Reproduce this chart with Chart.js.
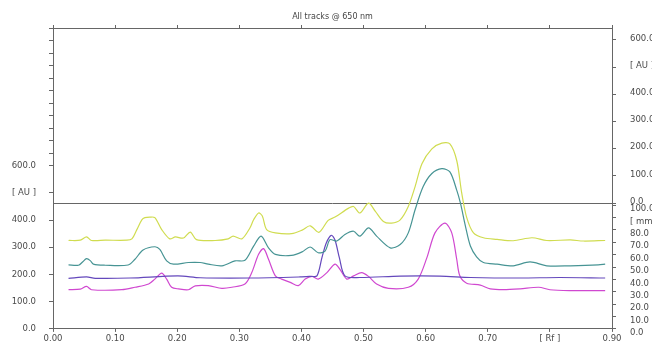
<!DOCTYPE html>
<html>
<head>
<meta charset="utf-8">
<script src="https://cdn.jsdelivr.net/npm/chart.js@4.4.1/dist/chart.umd.min.js"></script>
<style>
  html, body { margin: 0; padding: 0; background: #fff; overflow: hidden; }
</style>
</head>
<body>
<canvas id="chart" width="700" height="348"></canvas>
<script>
// Rf positions and signal (AU, left scale) for each track
const yellowRf = [0.025,0.044,0.054,0.062,0.084,0.119,0.127,0.135,0.143,0.148,0.156,0.164,0.175,0.188,0.197,0.210,0.221,0.231,0.261,0.282,0.290,0.304,0.317,0.323,0.331,0.337,0.344,0.358,0.384,0.401,0.414,0.428,0.443,0.454,0.476,0.484,0.494,0.508,0.519,0.532,0.545,0.559,0.572,0.583,0.594,0.610,0.626,0.639,0.650,0.658,0.666,0.677,0.693,0.715,0.741,0.771,0.795,0.833,0.854,0.889];
const yellowAu = [325,326,338,325,326,326,331,365,401,409,411,409,365,331,338,334,356,328,325,331,341,331,371,401,426,415,365,353,350,363,379,355,399,411,444,450,426,462,432,395,389,401,450,523,607,662,683,680,619,500,410,353,335,329,324,335,325,327,323,325];

const tealRf = [0.025,0.041,0.048,0.054,0.060,0.065,0.084,0.121,0.132,0.145,0.164,0.172,0.183,0.194,0.218,0.237,0.250,0.272,0.293,0.309,0.323,0.335,0.347,0.358,0.384,0.401,0.414,0.427,0.438,0.446,0.457,0.470,0.484,0.494,0.508,0.521,0.543,0.559,0.572,0.583,0.596,0.610,0.626,0.639,0.650,0.656,0.664,0.672,0.682,0.693,0.715,0.741,0.768,0.795,0.833,0.878,0.889];
const tealAu = [235,234,247,258,251,238,234,235,256,290,302,292,250,238,244,244,238,232,250,252,304,341,298,274,270,283,301,280,286,328,323,347,359,341,371,341,298,310,353,438,523,571,589,577,510,462,378,305,265,244,238,232,246,232,232,235,238];

const purpleRf = [0.025,0.054,0.068,0.124,0.201,0.237,0.317,0.398,0.414,0.425,0.433,0.440,0.448,0.454,0.461,0.470,0.494,0.559,0.623,0.672,0.752,0.816,0.889];
const purpleAu = [186,191,186,187,195,188,187,191,193,195,262,316,344,327,262,195,189,194,194,189,187,189,187];

const magentaRf = [0.025,0.044,0.054,0.062,0.111,0.132,0.154,0.164,0.175,0.183,0.191,0.202,0.218,0.229,0.250,0.272,0.288,0.309,0.320,0.331,0.339,0.347,0.358,0.368,0.382,0.395,0.406,0.417,0.427,0.441,0.454,0.462,0.473,0.484,0.497,0.508,0.521,0.540,0.572,0.588,0.602,0.615,0.631,0.642,0.650,0.655,0.666,0.688,0.704,0.725,0.752,0.782,0.800,0.833,0.889];
const magentaAu = [144,146,156,144,144,153,165,183,205,183,153,147,144,158,159,149,153,165,207,274,295,256,195,183,171,159,183,193,183,207,238,219,183,195,207,193,165,149,153,183,262,353,389,353,256,195,168,161,147,144,147,153,144,141,141];

// axis ticks
const rfTicks = [0, 0.1, 0.2, 0.3, 0.4, 0.5, 0.6, 0.7, 0.8, 0.9];
const leftAuTicks = [0, 100, 200, 300, 400, 500, 600];
const rightAuTicks = [0, 100, 200, 300, 400, 500, 600];
const mmTicks = [0, 10, 20, 30, 40, 50, 60, 70, 80, 90, 100];

const axisColor = '#666';
const textColor = '#4a4a4a';
const tickFont = { family: 'DejaVu Sans', size: 8.5 };

function points(rf, au) {
    return rf.map((r, i) => ({ x: r, y: au[i] }));
}

function track(rf, au, color) {
    return {
        data: points(rf, au),
        borderColor: color,
        borderWidth: 1.2,
        pointRadius: 0,
        tension: 0.3,
        fill: false,
        xAxisID: 'x',
        yAxisID: 'y'
    };
}

function setTicks(list) {
    return scale => { scale.ticks = list.map(v => ({ value: v })); };
}

const ctx = document.getElementById('chart').getContext('2d');

new Chart(ctx, {
    type: 'line',
    data: {
        datasets: [
            track(yellowRf, yellowAu, '#d0dc50'),
            track(tealRf, tealAu, '#479494'),
            track(purpleRf, purpleAu, '#6448bc'),
            track(magentaRf, magentaAu, '#d048d0')
        ]
    },
    options: {
        responsive: false,
        animation: false,
        events: [],
        layout: { padding: 0 },
        plugins: { legend: { display: false }, tooltip: { enabled: false } },
        scales: {
            x: {
                type: 'linear',
                position: 'bottom',
                min: 0,
                max: 0.9,
                afterBuildTicks: setTicks(rfTicks),
                afterFit: s => { s.height = 16; },
                border: { color: axisColor },
                grid: { drawOnChartArea: false, tickLength: 3, tickColor: axisColor },
                ticks: {
                    autoSkip: false,
                    maxRotation: 0,
                    padding: 2,
                    color: textColor,
                    font: tickFont,
                    callback: v => Math.abs(v - 0.8) < 1e-6 ? '[ Rf ]' : v.toFixed(2)
                }
            },
            xTop: {
                type: 'linear',
                position: 'top',
                min: 0,
                max: 0.9,
                afterBuildTicks: setTicks(rfTicks),
                afterFit: s => { s.height = 28; },
                border: { color: axisColor },
                grid: { drawOnChartArea: false, tickLength: 3, tickColor: axisColor },
                ticks: { display: false },
                title: {
                    display: true,
                    text: 'All tracks @ 650 nm',
                    color: '#444',
                    font: { family: 'DejaVu Sans', size: 8 },
                    padding: { top: 12, bottom: 0 }
                }
            },
            y: {
                type: 'linear',
                position: 'left',
                min: 0,
                max: 1106,
                afterBuildTicks: scale => {
                    // labelled AU ticks, then the unlabelled small ticks above 600
                    const list = leftAuTicks.map(v => ({ value: v }));
                    for (let v = 646; v <= 1106; v += 46) list.push({ value: v });
                    scale.ticks = list;
                },
                afterFit: s => { s.width = 53; },
                border: { color: axisColor },
                grid: { drawOnChartArea: false, tickLength: 4, tickColor: axisColor },
                ticks: {
                    autoSkip: false,
                    padding: 13,
                    color: textColor,
                    font: tickFont,
                    callback: v => v === 500 ? '[ AU ]' : (leftAuTicks.includes(v) ? v.toFixed(1) : '')
                }
            },
            yAu: {
                type: 'linear',
                position: 'right',
                stack: 'right',
                stackWeight: 177,
                weight: 1,
                min: 0,
                max: 643.6,
                afterBuildTicks: setTicks(rightAuTicks),
                afterFit: s => { s.width = 88; },
                border: { color: axisColor },
                grid: {
                    tickLength: 4,
                    tickColor: axisColor,
                    color: c => (c.tick && c.tick.value === 0) ? axisColor : 'rgba(0,0,0,0)'
                },
                ticks: {
                    autoSkip: false,
                    padding: 14,
                    labelOffset: -1.5,
                    color: textColor,
                    font: tickFont,
                    callback: v => v === 500 ? '[ AU ]' : v.toFixed(1)
                }
            },
            yMm: {
                type: 'linear',
                position: 'right',
                stack: 'right',
                stackWeight: 127,
                weight: 2,
                min: 0,
                max: 101.6,
                afterBuildTicks: setTicks(mmTicks),
                afterFit: s => { s.width = 88; },
                border: { color: axisColor },
                grid: { drawOnChartArea: false, tickLength: 4, tickColor: axisColor },
                ticks: {
                    autoSkip: false,
                    padding: 14,
                    labelOffset: 4,
                    color: textColor,
                    font: tickFont,
                    callback: v => v === 90 ? '[ mm ]' : v.toFixed(1)
                }
            }
        }
    }
});
</script>
</body>
</html>
